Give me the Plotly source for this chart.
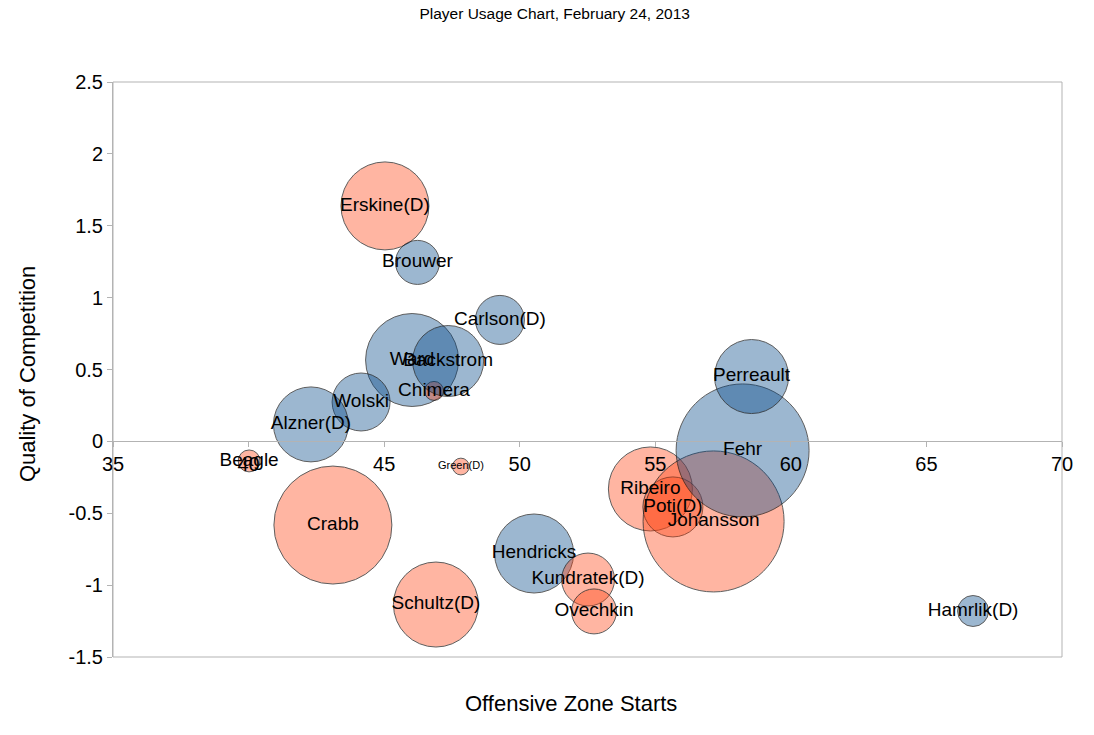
import plotly.graph_objects as go

# Player usage data (draw order = list order)
players = ['Erskine(D)', 'Brouwer', 'Carlson(D)', 'Ward', 'Chimera', 'Backstrom',
           'Wolski', 'Alzner(D)', 'Beagle', 'Green(D)', 'Crabb', 'Schultz(D)',
           'Hendricks', 'Kundratek(D)', 'Ovechkin', 'Ribeiro', 'Poti(D)',
           'Johansson', 'Fehr', 'Perreault', 'Hamrlik(D)']
oz_starts = [45.03, 46.23, 49.27, 46.03, 46.84, 47.36,
             44.15, 42.30, 40.02, 47.83, 43.11, 46.91,
             50.53, 52.52, 52.74, 54.82, 55.65,
             57.15, 58.22, 58.55, 66.72]
qual_comp = [1.638, 1.245, 0.845, 0.566, 0.351, 0.559,
             0.274, 0.118, -0.136, -0.175, -0.582, -1.135,
             -0.780, -0.961, -1.183, -0.331, -0.456,
             -0.557, -0.063, 0.451, -1.180]
bubble_size = [38.7, 9.7, 12.0, 43.2, 1.8, 25.2,
               16.8, 28.1, 2.4, 1.4, 69.6, 36.1,
               31.2, 14.0, 10.1, 35.3, 18.0,
               99.4, 88.4, 27.4, 4.8]
# 1 = blue series, 0 = orange series
series = [0, 1, 1, 1, 0, 1,
          1, 1, 0, 0, 0, 0,
          1, 0, 0, 0, 0,
          0, 1, 1, 1]

y_ticks = [-1.5, -1, -0.5, 0, 0.5, 1, 1.5, 2, 2.5]
y_tick_labels = ['-1.5', '-1', '-0.5', '0', '0.5', '1', '1.5', '2', '2.5']

BLUE = 'rgba(0,69,134,0.55)'
ORANGE = 'rgba(255,66,14,0.55)'
colors = [BLUE if s == 1 else ORANGE for s in series]
label_sizes = [11 if p == 'Green(D)' else 19 for p in players]

fig = go.Figure(go.Scatter(
    x=oz_starts, y=qual_comp, text=players,
    mode='markers+text', textposition='middle center',
    textfont=dict(size=label_sizes, color='black'),
    marker=dict(size=bubble_size, sizemode='area',
                sizeref=2.0 * max(bubble_size) / (141 ** 2),
                color=colors, line=dict(color='#1a1a1a', width=1)),
    hoverinfo='text', showlegend=False))

# plot frame
fig.add_shape(type='rect', xref='paper', yref='paper', x0=0, x1=1, y0=0, y1=1,
              line=dict(color='#b3b3b3', width=1), layer='below')

fig.update_layout(
    width=1094, height=735,
    margin=dict(l=113, r=32, t=82, b=78),
    paper_bgcolor='white', plot_bgcolor='white',
    font=dict(family='Liberation Sans, Arial, sans-serif', color='black'),
    title=dict(text='Player Usage Chart, February 24, 2013', x=0.507, y=0.981,
               xanchor='center', yanchor='middle', font=dict(size=15.5)),
    xaxis=dict(range=[35, 70], dtick=5, anchor='free', position=0.375,
               showline=True, linecolor='#b3b3b3', ticks='outside', ticklen=5,
               tickcolor='#b3b3b3', showgrid=False, zeroline=False,
               tickfont=dict(size=20)),
    yaxis=dict(range=[-1.5, 2.5], tickvals=y_ticks, ticktext=y_tick_labels,
               showline=True, linecolor='#b3b3b3', ticks='outside', ticklen=5,
               tickcolor='#b3b3b3', showgrid=False, zeroline=False,
               tickfont=dict(size=20)),
    annotations=[
        dict(text='Offensive Zone Starts', xref='paper', yref='paper',
             x=0.483, y=-0.0817, showarrow=False, font=dict(size=22),
             xanchor='center', yanchor='middle'),
        dict(text='Quality of Competition', xref='paper', yref='paper',
             x=-0.0906, y=0.492, showarrow=False, font=dict(size=22),
             textangle=-90, xanchor='center', yanchor='middle'),
    ],
)

# drop the default page margin so the chart sits at the window's corner
fig.write_html('out.html', config={'displayModeBar': False},
               post_script="document.body.style.margin='0';")
